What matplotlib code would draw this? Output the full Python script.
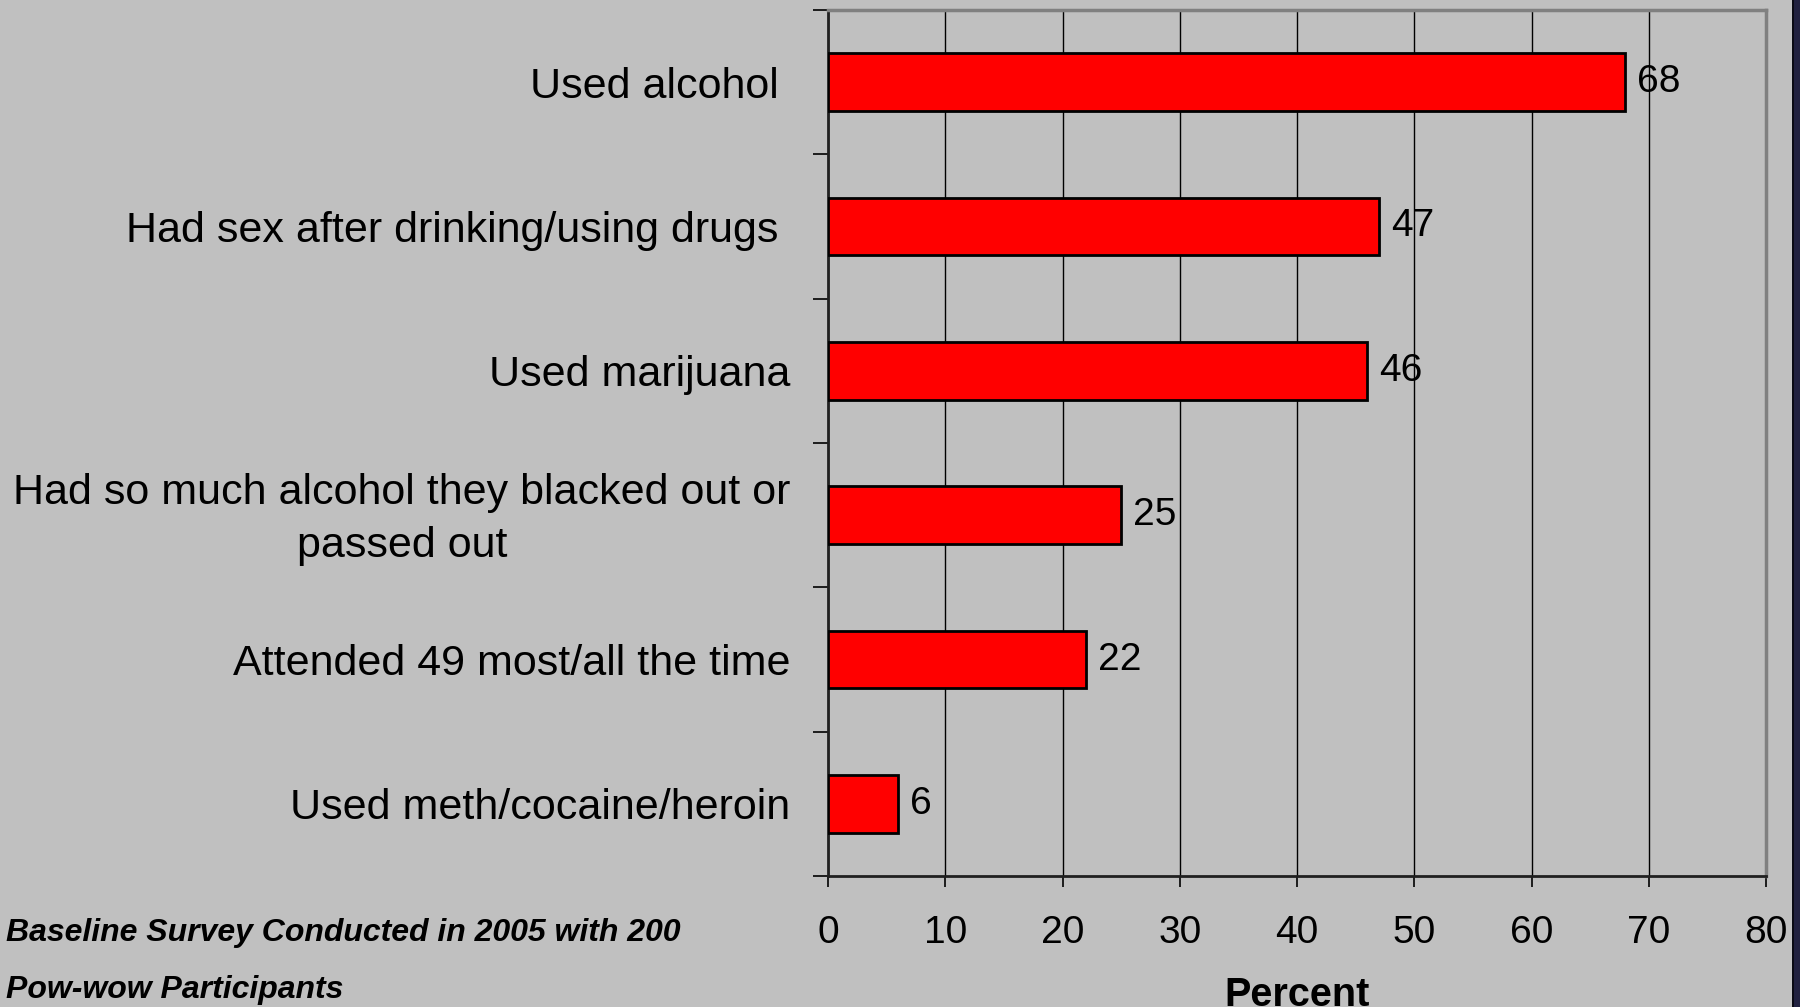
import matplotlib
matplotlib.use("Agg")
import matplotlib.pyplot as plt
from matplotlib.patches import Rectangle
from matplotlib.transforms import ScaledTranslation

plt.rcParams['font.family'] = ['Liberation Sans', 'DejaVu Sans']

# dados
categorias = [
    "Used alcohol ",
    "Had sex after drinking/using drugs ",
    "Used marijuana",
    "Had so much alcohol they blacked out or\npassed out",
    "Attended 49 most/all the time",
    "Used meth/cocaine/heroin",
]
valores = [68, 47, 46, 25, 22, 6]
xticks = [0, 10, 20, 30, 40, 50, 60, 70, 80]
nota = ["Baseline Survey Conducted in 2005 with 200", "Pow-wow Participants"]

FUNDO = '#c0c0c0'
W, H = 1800, 1007

fig = plt.figure(figsize=(W / 100, H / 100), dpi=100, facecolor=FUNDO)
ax = fig.add_axes([828 / W, 1 - 876 / H, (1766 - 828) / W, (876 - 10) / H])
ax.set_facecolor(FUNDO)

pos = list(range(len(categorias)))
ax.barh(pos, valores, height=0.4, color='#ff0000', edgecolor='black', linewidth=2, zorder=3)

for p, v in zip(pos, valores):
    ax.text(v + 1.0, p, str(v), va='center', ha='left', fontsize=28, color='black', zorder=4)

ax.set_xlim(0, 80)
ax.set_ylim(5.5, -0.5)
ax.set_xticks(xticks)
ax.set_xticklabels([str(t) for t in xticks], fontsize=28)
ax.tick_params(axis='x', direction='out', length=8, width=1.2, pad=20, colors='black')

ax.set_yticks(pos)
ax.set_yticklabels(categorias, fontsize=31, linespacing=1.44, multialignment='center')
ax.set_yticks([p - 0.5 for p in pos] + [5.5], minor=True)
ax.tick_params(axis='y', which='major', length=0, pad=27)
ax.tick_params(axis='y', which='minor', direction='out', length=11, width=1.2)

# rotulo de duas linhas um pouco mais alto
lbl = ax.get_yticklabels()[3]
lbl.set_transform(lbl.get_transform() + ScaledTranslation(0, 0.07, fig.dpi_scale_trans))

ax.xaxis.grid(True, color='black', linewidth=1, zorder=1)
ax.set_axisbelow(True)

ax.spines['left'].set_color('#202020')
ax.spines['left'].set_linewidth(2)
ax.spines['bottom'].set_color('#202020')
ax.spines['bottom'].set_linewidth(2)
ax.spines['top'].set_color('#808080')
ax.spines['top'].set_linewidth(2.5)
ax.spines['right'].set_color('#808080')
ax.spines['right'].set_linewidth(2.5)

fig.text(1297 / W, 1 - 976 / H, "Percent", ha='center', va='top', fontsize=28.5, fontweight='bold')

fam_nota = ['Liberation Sans Narrow', 'Liberation Sans', 'DejaVu Sans']
fig.text(6 / W, 1 - 933 / H, nota[0], ha='left', va='center', fontsize=23,
         fontweight='bold', fontstyle='italic', family=fam_nota)
fig.text(6 / W, 1 - 990 / H, nota[1], ha='left', va='center', fontsize=23,
         fontweight='bold', fontstyle='italic', family=fam_nota)

# faixa escura na borda direita
fig.patches.append(Rectangle((1792 / W, 0), 8 / W, 1, transform=fig.transFigure,
                             facecolor='#20203f', edgecolor='none'))
fig.patches.append(Rectangle((1792 / W, 0), 2 / W, 1, transform=fig.transFigure,
                             facecolor='#0a0a14', edgecolor='none'))

fig.savefig('out.png', dpi=100, facecolor=FUNDO)
